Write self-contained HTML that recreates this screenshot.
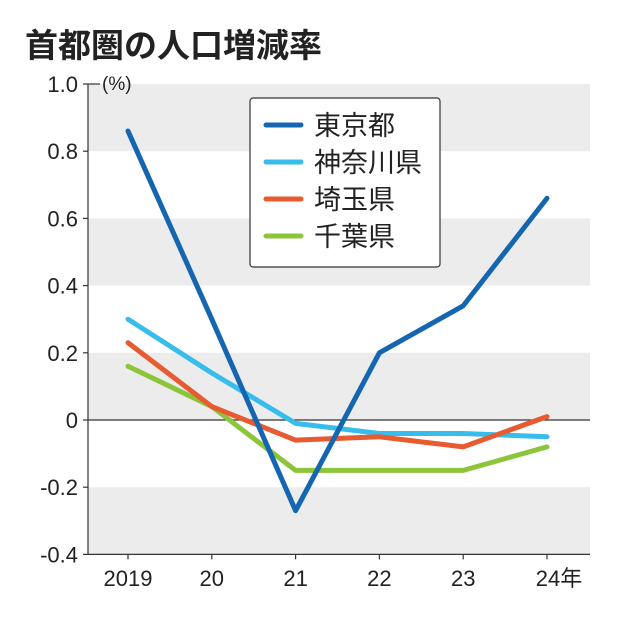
<!DOCTYPE html>
<html><head><meta charset="utf-8"><style>
body{margin:0;background:#fff}
svg text{font-family:"Liberation Sans","Noto Sans CJK JP",sans-serif;fill:#222}
</style></head><body>
<svg id="c" width="620" height="620" xmlns="http://www.w3.org/2000/svg">
<text x="25" y="57" font-size="33" font-weight="bold">首都圏の人口増減率</text>
<g id="bands"></g><g id="axes"></g><g id="lines"></g>
<g>
<rect x="250" y="98" width="190" height="169" rx="3" fill="#fff" stroke="#333" stroke-width="1.2"/>
<g id="leg"></g></g>
</svg>
<script>
const years=["2019","20","21","22","23","24年"];
const tokyo=[0.86,0.30,-0.27,0.20,0.34,0.66];
const kanagawa=[0.30,0.14,-0.01,-0.04,-0.04,-0.05];
const saitama=[0.23,0.04,-0.06,-0.05,-0.08,0.01];
const chiba=[0.16,0.04,-0.15,-0.15,-0.15,-0.08];
const yTicks=[1.0,0.8,0.6,0.4,0.2,0,-0.2,-0.4];
const yTickLabels=["1.0","0.8","0.6","0.4","0.2","0","-0.2","-0.4"];
const names=["東京都","神奈川県","埼玉県","千葉県"];
const NS="http://www.w3.org/2000/svg";
const X0=128,DX=83.8,x=i=>X0+i*DX;
const y=v=>420-v*336;
function mk(t,a,p){const e=document.createElementNS(NS,t);for(const k in a)e.setAttribute(k,a[k]);p.appendChild(e);return e;}
const bands=document.getElementById('bands'),axes=document.getElementById('axes'),lines=document.getElementById('lines'),leg=document.getElementById('leg');
for(let i=0;i<yTicks.length-1;i+=2){
 const b=mk('rect',{x:88,y:y(yTicks[i]),width:502,height:y(yTicks[i+1])-y(yTicks[i]),fill:'#ececec'},bands);
 
 
}
mk('line',{x1:88,y1:y(1),x2:88,y2:y(-0.4),stroke:'#333','stroke-width':1.2},axes);
mk('line',{x1:88,y1:y(0),x2:590,y2:y(0),stroke:'#333','stroke-width':1.2},axes);
mk('line',{x1:88,y1:y(-0.4),x2:590,y2:y(-0.4),stroke:'#333','stroke-width':1.2},axes);
yTicks.forEach((v,i)=>{
 mk('line',{x1:83,y1:y(v),x2:88,y2:y(v),stroke:'#333','stroke-width':1.2},axes);
 const t=mk('text',{x:78,y:y(v)+8,'font-size':22,'text-anchor':'end'},axes);t.textContent=yTickLabels[i];
 
 
});
mk('line',{x1:88,y1:y(1),x2:100,y2:y(1),stroke:'#333','stroke-width':1.2},axes);
const u=mk('text',{x:102,y:y(1)+6,'font-size':19},axes);u.textContent='(%)';


years.forEach((l,i)=>{
 mk('line',{x1:x(i),y1:y(-0.4),x2:x(i),y2:y(-0.4)+5,stroke:'#333','stroke-width':1.2},axes);
 const t=mk('text',{x:x(i)+(i==5?12:0),y:586,'font-size':22,'text-anchor':'middle'},axes);t.textContent=l;
 
 
});
const series=[kanagawa,chiba,saitama,tokyo],cols=['#36bdec','#8cc43a','#e85a30','#1466b0'],sn=['kanagawa','chiba','saitama','tokyo'];
series.forEach((s,k)=>{
 const p=mk('polyline',{points:s.map((v,i)=>x(i)+','+y(v)).join(' '),fill:'none',stroke:cols[k],'stroke-width':5,'stroke-linejoin':'round','stroke-linecap':'round'},lines);
 
 
});
const lc=['#1466b0','#36bdec','#e85a30','#8cc43a'];
names.forEach((n,i)=>{
 const yy=125+i*37;
 mk('line',{x1:266,y1:yy,x2:301,y2:yy,stroke:lc[i],'stroke-width':5,'stroke-linecap':'round'},leg);
 const t=mk('text',{x:314,y:yy+10,'font-size':27},leg);t.textContent=n;
 
 
});
</script>
</body></html>
